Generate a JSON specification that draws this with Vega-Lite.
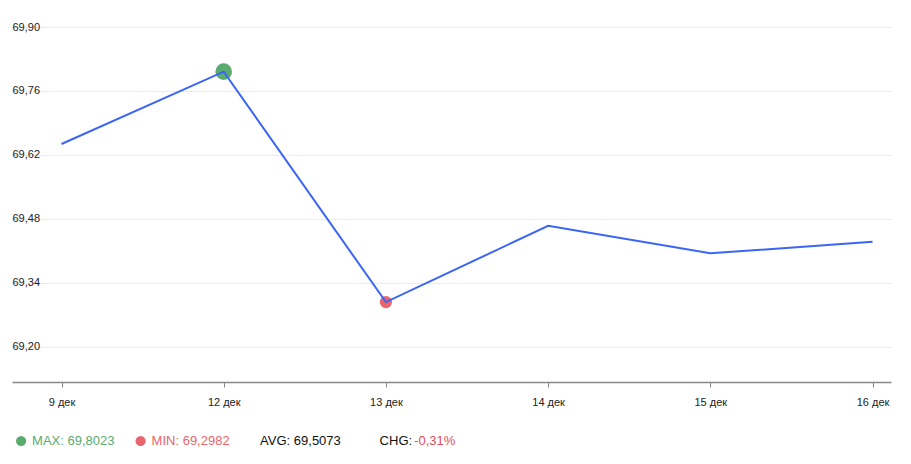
{
  "$schema": "https://vega.github.io/schema/vega-lite/v6.json",
  "padding": {"left": 12, "top": 21, "right": 20, "bottom": 0},
  "background": "white",
  "config": {
    "view": {"stroke": null},
    "font": "Liberation Sans",
    "concat": {"spacing": 24}
  },
  "datasets": {
    "rates": [
      {"date": "9 дек", "value": 69.644, "extreme": null},
      {"date": "12 дек", "value": 69.8023, "extreme": "max"},
      {"date": "13 дек", "value": 69.2982, "extreme": "min"},
      {"date": "14 дек", "value": 69.465, "extreme": null},
      {"date": "15 дек", "value": 69.405, "extreme": null},
      {"date": "16 дек", "value": 69.43, "extreme": null}
    ],
    "stats": [
      {"item": "MAX", "label": "MAX: 69,8023", "change": null},
      {"item": "MIN", "label": "MIN: 69,2982", "change": null},
      {"item": "AVG", "label": "AVG: 69,5073", "change": null},
      {"item": "CHG", "label": "CHG:", "change": "-0,31%"}
    ]
  },
  "vconcat": [
    {
      "width": 834,
      "height": 355,
      "data": {"name": "rates"},
      "encoding": {
        "x": {
          "field": "date",
          "type": "ordinal",
          "scale": {
            "type": "point",
            "domain": ["9 дек", "12 дек", "13 дек", "14 дек", "15 дек", "16 дек"],
            "range": [-45, 834],
            "padding": 0.2096,
            "align": 0.728
          },
          "axis": {
            "title": null,
            "labelAngle": 0,
            "labelFontSize": 11,
            "labelColor": "#222222",
            "labelPadding": 9,
            "tickSize": 5,
            "tickColor": "#888888",
            "domainColor": "#888888",
            "domainWidth": 1.5,
            "grid": false
          }
        },
        "y": {
          "field": "value",
          "type": "quantitative",
          "scale": {"domain": [69.1234, 69.9], "nice": false, "zero": false},
          "axis": {
            "title": null,
            "values": [69.2, 69.34, 69.48, 69.62, 69.76, 69.9],
            "labelExpr": "replace(format(datum.value, '.2f'), '.', ',')",
            "labelAlign": "left",
            "labelPadding": 45,
            "labelFontSize": 11,
            "labelColor": "#222222",
            "ticks": false,
            "domain": false,
            "grid": true,
            "gridColor": "#ebebeb",
            "gridWidth": 1
          }
        }
      },
      "layer": [
        {
          "transform": [{"filter": "datum.extreme != null"}],
          "mark": {"type": "circle", "opacity": 1},
          "encoding": {
            "color": {
              "field": "extreme",
              "type": "nominal",
              "scale": {"domain": ["max", "min"], "range": ["#5aab6e", "#e8656d"]},
              "legend": null
            },
            "size": {
              "condition": {"test": "datum.extreme == 'max'", "value": 275},
              "value": 150
            }
          }
        },
        {
          "mark": {"type": "line", "color": "#3b65f6", "strokeWidth": 2}
        }
      ]
    },
    {
      "width": 500,
      "height": 20,
      "data": {"name": "stats"},
      "encoding": {
        "x": {
          "field": "item",
          "type": "nominal",
          "scale": {"type": "point", "domain": ["MAX", "MIN", "AVG", "CHG"], "range": [-35.9, 322.6], "padding": 0},
          "axis": null
        }
      },
      "layer": [
        {
          "transform": [{"filter": "datum.item == 'MAX' || datum.item == 'MIN'"}],
          "mark": {"type": "circle", "opacity": 1, "size": 105},
          "encoding": {
            "color": {
              "field": "item",
              "type": "nominal",
              "scale": {"domain": ["MAX", "MIN"], "range": ["#5aab6e", "#e8656d"]},
              "legend": null
            }
          }
        },
        {
          "transform": [{"filter": "datum.item == 'MAX' || datum.item == 'MIN'"}],
          "mark": {"type": "text", "align": "left", "baseline": "middle", "dx": 11, "fontSize": 13},
          "encoding": {
            "text": {"field": "label"},
            "color": {
              "field": "item",
              "type": "nominal",
              "scale": {"domain": ["MAX", "MIN"], "range": ["#4a9a60", "#e24b58"]},
              "legend": null
            }
          }
        },
        {
          "transform": [{"filter": "datum.item == 'AVG' || datum.item == 'CHG'"}],
          "mark": {"type": "text", "align": "left", "baseline": "middle", "fontSize": 13, "color": "#111111"},
          "encoding": {"text": {"field": "label"}}
        },
        {
          "transform": [{"filter": "datum.change != null"}],
          "mark": {"type": "text", "align": "left", "baseline": "middle", "dx": 34.5, "fontSize": 13, "color": "#e24b58"},
          "encoding": {"text": {"field": "change"}}
        }
      ]
    }
  ]
}
